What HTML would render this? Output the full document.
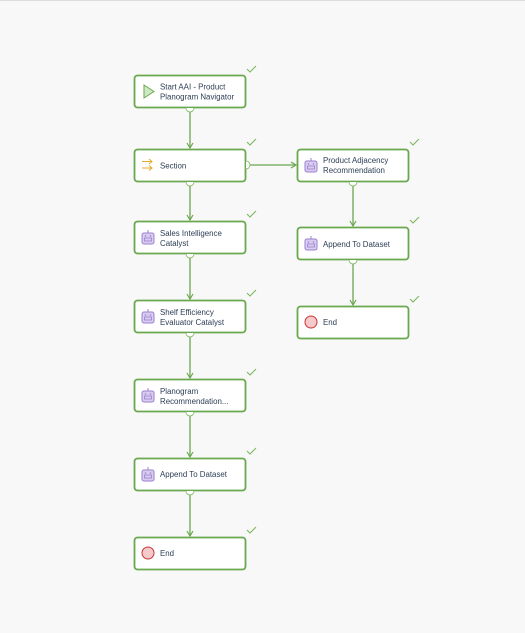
<!DOCTYPE html>
<html><head><style>
html,body{margin:0;padding:0;background:#f8f8f8;}
svg{display:block;font-family:"Liberation Sans",sans-serif;}
text{font-size:7.9px;fill:#2d3e55;}
</style></head><body>
<svg width="525" height="633" viewBox="0 0 525 633">
<defs>
<marker id="ah" markerWidth="8" markerHeight="8" refX="6" refY="4" orient="auto" markerUnits="userSpaceOnUse">
<path d="M1,1 L6,4 L1,7" fill="none" stroke="#6aa84f" stroke-width="1.2"/></marker>
<g id="bot">
<rect x="-6" y="-5" width="12" height="11" rx="2" fill="#d9cdef" stroke="#9b7fd0" stroke-width="1"/>
<line x1="0" y1="-5" x2="0" y2="-8" stroke="#9b7fd0" stroke-width="1"/>
<rect x="-3.5" y="0" width="7" height="3" fill="none" stroke="#9b7fd0" stroke-width="0.8"/>
<circle cx="-2.5" cy="-2" r="0.8" fill="#9b7fd0"/><circle cx="2.5" cy="-2" r="0.8" fill="#9b7fd0"/>
</g>
<path id="chk" d="M0,3 L3,6 L9,0" fill="none" stroke="#7ab55c" stroke-width="1"/>
</defs>
<line x1="0" y1="0.5" x2="525" y2="0.5" stroke="#ddd"/>
<g stroke="#6aa84f" stroke-width="1.3" fill="none">
<line x1="190" y1="108" x2="190" y2="148" marker-end="url(#ah)"/>
<line x1="190" y1="181" x2="190" y2="220" marker-end="url(#ah)"/>
<line x1="190" y1="254" x2="190" y2="299" marker-end="url(#ah)"/>
<line x1="190" y1="333" x2="190" y2="378" marker-end="url(#ah)"/>
<line x1="190" y1="412" x2="190" y2="457" marker-end="url(#ah)"/>
<line x1="190" y1="490" x2="190" y2="536" marker-end="url(#ah)"/>
<line x1="245" y1="165" x2="296" y2="165" marker-end="url(#ah)"/>
<line x1="353" y1="181" x2="353" y2="226" marker-end="url(#ah)"/>
<line x1="353" y1="260" x2="353" y2="305" marker-end="url(#ah)"/>
</g>
<g fill="#fff" stroke="#6aa84f" stroke-width="1.8">
<rect x="134.5" y="75.5" width="111" height="32" rx="3"/>
<rect x="134.5" y="149.5" width="111" height="32" rx="3"/>
<rect x="134.5" y="221.5" width="111" height="32" rx="3"/>
<rect x="134.5" y="300.5" width="111" height="32" rx="3"/>
<rect x="134.5" y="379.5" width="111" height="32" rx="3"/>
<rect x="134.5" y="458.5" width="111" height="32" rx="3"/>
<rect x="134.5" y="537.5" width="111" height="32" rx="3"/>
<rect x="297.5" y="149.5" width="111" height="32" rx="3"/>
<rect x="297.5" y="227.5" width="111" height="32" rx="3"/>
<rect x="297.5" y="306.5" width="111" height="32" rx="3"/>
</g>
<g fill="#fff" stroke="#7ab55c" stroke-width="0.8">
<path d="M186,108 a4,4 0 0 0 8,0"/><path d="M186,182 a4,4 0 0 0 8,0"/>
<path d="M186,254 a4,4 0 0 0 8,0"/><path d="M186,333 a4,4 0 0 0 8,0"/>
<path d="M186,412 a4,4 0 0 0 8,0"/><path d="M186,491 a4,4 0 0 0 8,0"/>
<path d="M246,161 a4,4 0 0 1 0,8"/>
<path d="M349,182 a4,4 0 0 0 8,0"/><path d="M349,260 a4,4 0 0 0 8,0"/>
</g>
<g>
<use href="#chk" x="247" y="66"/><use href="#chk" x="247" y="139"/>
<use href="#chk" x="247" y="211"/><use href="#chk" x="247" y="290"/>
<use href="#chk" x="247" y="369"/><use href="#chk" x="247" y="448"/>
<use href="#chk" x="247" y="527"/><use href="#chk" x="410" y="139"/>
<use href="#chk" x="410" y="217"/><use href="#chk" x="410" y="296"/>
</g>
<path d="M144,85 L154,91.5 L144,98 Z" fill="#cfe8c4" stroke="#6aa84f" stroke-width="1"/>
<g stroke="#e6a928" stroke-width="1" fill="none">
<path d="M142,161.5 H152 M149,159 L152,161.5 L149,164"/>
<path d="M142,168 H152 M149,165.5 L152,168 L149,170.5"/>
</g>
<use href="#bot" x="148" y="238"/><use href="#bot" x="148" y="317"/>
<use href="#bot" x="148" y="396"/><use href="#bot" x="148" y="475"/>
<use href="#bot" x="311" y="166"/><use href="#bot" x="311" y="244"/>
<circle cx="148" cy="553" r="6" fill="#f6caca" stroke="#cc3333" stroke-width="1"/>
<circle cx="311" cy="322" r="6" fill="#f6caca" stroke="#cc3333" stroke-width="1"/>
<text x="160" y="89.5">Start AAI - Product</text><text x="160" y="99.5">Planogram Navigator</text>
<text x="160" y="168.5">Section</text>
<text x="160" y="236">Sales Intelligence</text><text x="160" y="246">Catalyst</text>
<text x="160" y="315">Shelf Efficiency</text><text x="160" y="325">Evaluator Catalyst</text>
<text x="160" y="394">Planogram</text><text x="160" y="404">Recommendation...</text>
<text x="160" y="477">Append To Dataset</text>
<text x="160" y="556">End</text>
<text x="323" y="163">Product Adjacency</text><text x="323" y="173">Recommendation</text>
<text x="323" y="247">Append To Dataset</text>
<text x="323" y="325">End</text>
</svg>
</body></html>
